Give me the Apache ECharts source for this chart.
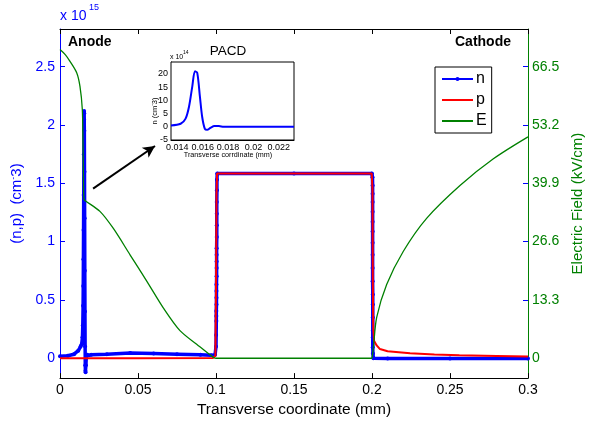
<!DOCTYPE html>
<html><head><meta charset="utf-8">
<script src="https://cdn.jsdelivr.net/npm/echarts@6/dist/echarts.min.js"></script>
<style>html,body{margin:0;padding:0;background:#fff}#c{width:595px;height:423px}</style>
</head><body><div id="c"></div>
<script>
// ---- axis ticks ----
const xTicks = [0, 0.05, 0.1, 0.15, 0.2, 0.25, 0.3];
const nTicks = [0, 0.5, 1, 1.5, 2, 2.5];           // x 10^15 cm^-3
const eTicks = [0, 13.3, 26.6, 39.9, 53.2, 66.5];  // kV/cm
const insetXTicks = [0.014, 0.016, 0.018, 0.02, 0.022];
const insetYTicks = [-5, 0, 5, 10, 15, 20];        // x 10^14

// ---- n (electrons), units 1e15 cm^-3 ----
const nX = [0, 0.005, 0.009, 0.0117, 0.0132, 0.0139, 0.0144, 0.0146, 0.0148, 0.0149, 0.0150, 0.0151, 0.0152, 0.0153, 0.0154, 0.01545, 0.0155, 0.0156, 0.0157, 0.0158, 0.0159, 0.0160, 0.0161, 0.0162, 0.0163, 0.0164, 0.0166, 0.0169, 0.0175, 0.02, 0.03, 0.045, 0.06, 0.075, 0.09, 0.097,
  0.0994, 0.1000, 0.1001, 0.1002, 0.1002, 0.1002, 0.1003, 0.1003, 0.1003, 0.1003, 0.1004, 0.1004, 0.1004, 0.1004, 0.1004, 0.1005, 0.1005, 0.1005, 0.1005, 0.1006, 0.1006, 0.1008,
  0.15, 0.1999,
  0.2003, 0.2004, 0.2004, 0.2004, 0.2004, 0.2004, 0.2004, 0.2004, 0.2004, 0.2004, 0.2004, 0.2005, 0.2005, 0.2005, 0.2005, 0.2005, 0.2005, 0.2006, 0.2009, 0.21, 0.25, 0.3];
const nY = [0.018, 0.022, 0.035, 0.065, 0.1, 0.12, 0.18, 0.28, 0.45, 0.62, 0.85, 1.1, 1.4, 1.75, 2.05, 2.12, 2.1, 1.95, 1.6, 1.2, 0.75, 0.4, 0.1, -0.06, -0.11, -0.12, -0.06, 0.02, 0.03, 0.03, 0.035, 0.045, 0.04, 0.035, 0.03, 0.025,
  0.03, 0.10, 0.20, 0.32, 0.363, 0.406, 0.462, 0.519, 0.576, 0.632, 0.703, 0.774, 0.83, 0.887, 0.944, 1.04, 1.14, 1.24, 1.34, 1.44, 1.53, 1.585,
  1.585, 1.585,
  1.553, 1.482, 1.41, 1.34, 1.256, 1.17, 1.086, 0.99, 0.887, 0.774, 0.66, 0.547, 0.462, 0.349, 0.235, 0.179, 0.094, 0.04, 0.0, -0.003, -0.003, -0.003];

// ---- p (holes), units 1e15 cm^-3 ----
const pX = [0, 0.05, 0.098, 0.0996, 0.1000, 0.1003, 0.1007, 0.15, 0.1998, 0.2003, 0.2005, 0.2008, 0.2013, 0.203, 0.2051, 0.21, 0.2244, 0.24, 0.256, 0.28, 0.3];
const pY = [0, 0, 0.003, 0.02, 0.6, 1.4, 1.585, 1.585, 1.585, 1.45, 0.7, 0.25, 0.15, 0.11, 0.079, 0.06, 0.043, 0.033, 0.026, 0.02, 0.015];

// ---- E (electric field), kV/cm; null marks a break between smooth pieces ----
const eX = [0, 0.0035, 0.0064, 0.0107, 0.0128, 0.0143, 0.0147, 0.0150, 0.0153, 0.016, 0.0256, 0.0342, 0.0449, 0.0556, 0.0662, 0.0769, 0.0876, 0.0983, 0.1,
  null, 0.1, 0.15, 0.2,
  null, 0.2, 0.2009, 0.203, 0.2094, 0.2201, 0.235, 0.2564, 0.2778, 0.3];
const eY = [70.4, 69.2, 67.7, 65.1, 62.0, 56.8, 50, 42, 36.4, 36.0, 33.5, 29.6, 23.6, 17.6, 11.5, 6.3, 3.2, 0.2, 0,
  null, 0, 0, 0,
  null, 0, 2.5, 9.3, 16.8, 24.4, 31.9, 39.4, 45.5, 50.5];

// ---- inset PACD n, units 1e14 cm^-3 ----
const insetX = [0.0135, 0.01426, 0.01465, 0.01492, 0.01518, 0.01539, 0.01557, 0.01578, 0.01596, 0.01617, 0.01635, 0.01661, 0.01693, 0.01727, 0.01766, 0.0232];
const insetY = [0.5, 1.15, 3.1, 7.6, 15.3, 21.0, 20.4, 11.4, 3.7, -0.8, -1.15, -0.4, 0.26, 0.26, 0, 0];

const zip = (a, b) => a.map((v, i) => (v === null || b[i] === null) ? '-' : [v, b[i]]);
const FONT = 'Liberation Sans, Arial, Helvetica, sans-serif';
const BLUE = '#0000ff', RED = '#ff0000', GREEN = '#008000';

const chart = echarts.init(document.getElementById('c'), null, {renderer: 'canvas'});
chart.setOption({
  backgroundColor: '#ffffff',
  animation: false,
  textStyle: {fontFamily: FONT},
  grid: [
    {left: 60, top: 29, right: 67, bottom: 42, containLabel: false},
    {left: 171, top: 62, width: 123, height: 78, show: true, borderColor: '#000', borderWidth: 1, backgroundColor: '#fff', z: 10}
  ],
  legend: {
    left: 435, top: 67, orient: 'vertical',
    data: [{name: 'n'}, {name: 'p', itemStyle: {opacity: 0}}, {name: 'E', itemStyle: {opacity: 0}}],
    itemWidth: 31, itemHeight: 5, itemGap: 5,
    padding: [4, 5, 4, 6],
    borderColor: '#000', borderWidth: 1, backgroundColor: '#fff',
    textStyle: {fontSize: 16, lineHeight: 16, color: '#000', fontFamily: FONT, padding: [0, 0, 0, -2]}
  },
  xAxis: [
    {type: 'value', gridIndex: 0, min: 0, max: 0.3, position: 'bottom',
     axisLine: {show: true, onZero: false, lineStyle: {color: '#000', width: 1}},
     axisTick: {show: true, inside: true, length: 5, customValues: xTicks, lineStyle: {color: '#000'}},
     axisLabel: {customValues: xTicks, color: '#000', fontSize: 14, margin: 5, fontFamily: FONT},
     splitLine: {show: false},
     name: 'Transverse coordinate (mm)', nameLocation: 'middle', nameGap: 18,
     nameTextStyle: {color: '#000', fontSize: 15.5, fontFamily: FONT, verticalAlign: 'top'}},
    {type: 'value', gridIndex: 0, min: 0, max: 0.3, position: 'top',
     axisLine: {show: true, onZero: false, lineStyle: {color: '#000', width: 1}},
     axisTick: {show: true, inside: true, length: 5, customValues: xTicks, lineStyle: {color: '#000'}},
     axisLabel: {show: false}, splitLine: {show: false}},
    {type: 'value', gridIndex: 1, min: 0.0135, max: 0.0232, position: 'bottom',
     axisLine: {show: true, onZero: false, lineStyle: {color: '#000', width: 1}},
     axisTick: {show: true, inside: true, length: 3, customValues: insetXTicks, lineStyle: {color: '#000'}},
     axisLabel: {customValues: insetXTicks, color: '#000', fontSize: 9, margin: 3, fontFamily: FONT},
     splitLine: {show: false}}
  ],
  yAxis: [
    {type: 'value', gridIndex: 0, min: -0.17, max: 2.823, position: 'left',
     axisLine: {show: true, onZero: false, lineStyle: {color: BLUE, width: 1}},
     axisTick: {show: true, inside: true, length: 5, customValues: nTicks, lineStyle: {color: BLUE}},
     axisLabel: {customValues: nTicks, color: BLUE, fontSize: 14, margin: 5, fontFamily: FONT},
     splitLine: {show: false},
     name: '(n,p)  (cm{s|-}3)', nameLocation: 'middle', nameGap: 30, nameRotate: 90,
     nameTextStyle: {color: BLUE, fontSize: 15, fontFamily: FONT,
       rich: {s: {color: BLUE, fontSize: 9, fontFamily: FONT, padding: [0, 0, 8, 0]}}}},
    {type: 'value', gridIndex: 0, min: -4.522, max: 75.09, position: 'right',
     axisLine: {show: true, onZero: false, lineStyle: {color: GREEN, width: 1}},
     axisTick: {show: true, inside: true, length: 5, customValues: eTicks, lineStyle: {color: GREEN}},
     axisLabel: {customValues: eTicks, color: GREEN, fontSize: 14, margin: 4, fontFamily: FONT},
     splitLine: {show: false},
     name: 'Electric Field (kV/cm)', nameLocation: 'middle', nameGap: 33, nameRotate: 90,
     nameTextStyle: {color: GREEN, fontSize: 15, fontFamily: FONT}},
    {type: 'value', gridIndex: 0, min: -0.17, max: 2.823, position: 'right',
     axisLine: {show: false, onZero: false},
     axisTick: {show: true, inside: true, length: 5, customValues: nTicks, lineStyle: {color: BLUE}},
     axisLabel: {show: false}, splitLine: {show: false}},
    {type: 'value', gridIndex: 1, min: -5, max: 24.5, position: 'left',
     axisLine: {show: true, onZero: false, lineStyle: {color: '#000', width: 1}},
     axisTick: {show: true, inside: true, length: 3, customValues: insetYTicks, lineStyle: {color: '#000'}},
     axisLabel: {customValues: insetYTicks, color: '#000', fontSize: 9, margin: 3, fontFamily: FONT},
     splitLine: {show: false}}
  ],
  series: [
    {name: 'n', type: 'line', xAxisIndex: 0, yAxisIndex: 0, data: zip(nX, nY),
     symbol: 'circle', symbolSize: 4, showSymbol: true, showAllSymbol: true,
     lineStyle: {color: BLUE, width: 3.5}, itemStyle: {color: BLUE}, z: 2, silent: true,
     markLine: {silent: true, symbol: ['none', 'arrow'], symbolSize: [9, 12],
       lineStyle: {color: '#000', width: 2, type: 'solid'}, label: {show: false},
       data: [[{coord: [0.0212, 1.454]}, {coord: [0.0609, 1.82]}]]}},
    {name: 'p', type: 'line', xAxisIndex: 0, yAxisIndex: 0, data: zip(pX, pY),
     symbol: 'none', lineStyle: {color: RED, width: 2}, itemStyle: {color: RED}, z: 3, silent: true},
    {name: 'E', type: 'line', xAxisIndex: 0, yAxisIndex: 1, data: zip(eX, eY),
     symbol: 'none', smooth: 0.3, connectNulls: false,
     lineStyle: {color: GREEN, width: 1.3}, itemStyle: {color: GREEN}, z: 4, silent: true},
    {name: 'PACD n', type: 'line', xAxisIndex: 2, yAxisIndex: 3, data: zip(insetX, insetY),
     symbol: 'none', smooth: 0.3, lineStyle: {color: BLUE, width: 2}, itemStyle: {color: BLUE}, z: 12, silent: true}
  ],
  graphic: [
    {type: 'text', left: 60, top: 9, style: {text: 'x 10', fill: BLUE, fontSize: 14, fontFamily: FONT}},
    {type: 'text', left: 89, top: 3, style: {text: '15', fill: BLUE, fontSize: 9, fontFamily: FONT}},
    {type: 'text', left: 68, top: 35, style: {text: 'Anode', fill: '#000', fontSize: 14, fontWeight: 'bold', fontFamily: FONT}},
    {type: 'text', left: 455, top: 35, style: {text: 'Cathode', fill: '#000', fontSize: 14, fontWeight: 'bold', fontFamily: FONT}},
    {type: 'text', x: 228, y: 51, z: 20, style: {text: 'PACD', fill: '#000', fontSize: 13.5, fontFamily: FONT, align: 'center', verticalAlign: 'middle'}},
    {type: 'text', x: 170, y: 57, z: 20, style: {text: 'x 10', fill: '#000', fontSize: 7, fontFamily: FONT, verticalAlign: 'middle'}},
    {type: 'text', x: 183, y: 53, z: 20, style: {text: '14', fill: '#000', fontSize: 5, fontFamily: FONT, verticalAlign: 'middle'}},
    {type: 'text', x: 155, y: 111, rotation: Math.PI / 2, z: 20,
     style: {text: 'n (cm{s|-}3)', fill: '#000', fontSize: 7.5, fontFamily: FONT, align: 'center', verticalAlign: 'middle',
       rich: {s: {fill: '#000', fontSize: 5, fontFamily: FONT, padding: [0, 0, 4, 0]}}}},
    {type: 'text', x: 228, y: 155, z: 20, style: {text: 'Transverse corrdinate (mm)', fill: '#000', fontSize: 7.2, fontFamily: FONT, align: 'center', verticalAlign: 'middle'}}
  ]
});
</script>
</body></html>
